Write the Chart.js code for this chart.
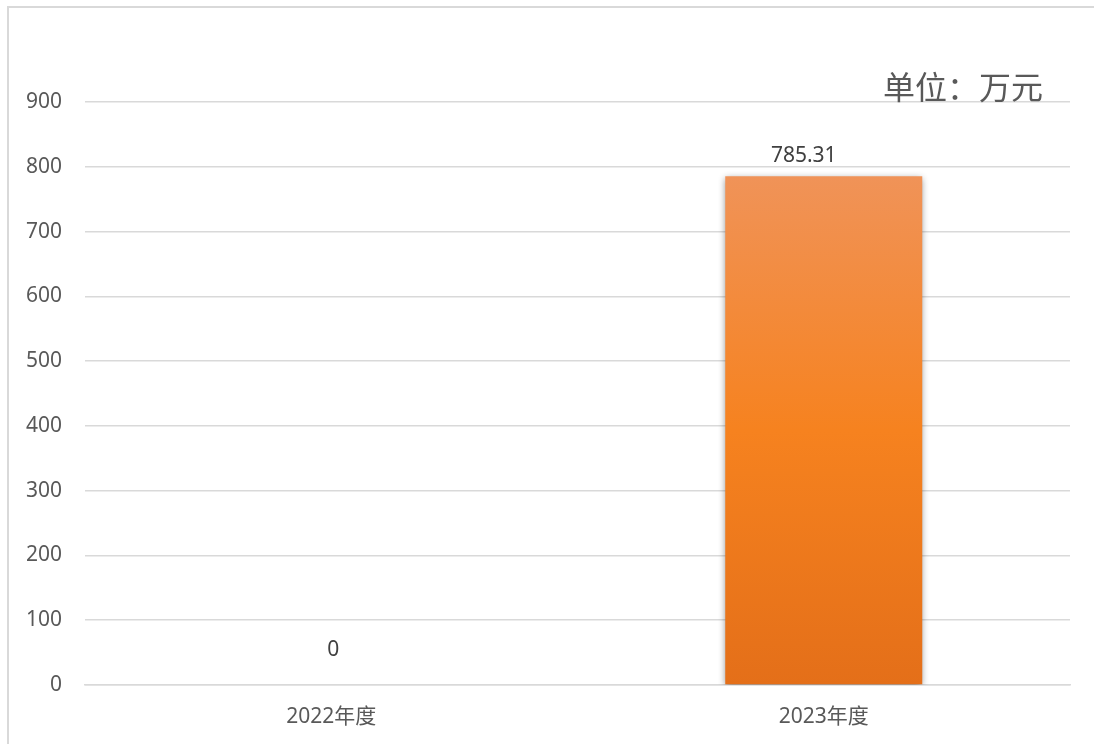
<!DOCTYPE html>
<html>
<head>
<meta charset="utf-8">
<script src="https://cdn.jsdelivr.net/npm/chart.js@4"></script>
<style>
html,body{margin:0;padding:0;background:#fff;}
#wrap{width:1094px;height:744px;}
</style>
</head>
<body>
<div id="wrap"><canvas id="c" width="1094" height="744"></canvas></div>
<script>
const categories = ["2022年度", "2023年度"];
const values = [0, 785.31];
const valueLabels = ["0", "785.31"];
const yTicks = [0, 100, 200, 300, 400, 500, 600, 700, 800, 900];
const unitText = "单位：万元";

const FONT = '"Noto Sans", "Noto Sans CJK SC", sans-serif';
const CJK = '"Noto Sans CJK SC", sans-serif';

const frame = {
  id: 'frame',
  beforeDraw(chart) {
    const ctx = chart.ctx;
    ctx.save();
    ctx.fillStyle = '#fff';
    ctx.fillRect(0, 0, chart.width, chart.height);
    ctx.strokeStyle = '#d9d9d9';
    ctx.lineWidth = 2;
    ctx.strokeRect(8, 7, 1100, 760);
    ctx.restore();
  },
  afterDraw(chart) {
    const ctx = chart.ctx;
    ctx.save();
    ctx.font = '32px ' + CJK;
    ctx.fillStyle = '#595959';
    ctx.textAlign = 'right';
    ctx.textBaseline = 'alphabetic';
    ctx.fillText(unitText, 1043, 99);
    ctx.restore();
  }
};

const shadow = {
  id: 'shadow',
  beforeDatasetDraw(chart) {
    const ctx = chart.ctx;
    ctx.save();
    ctx.shadowColor = 'rgba(0,0,0,0.45)';
    ctx.shadowBlur = 7;
    ctx.shadowOffsetX = 0;
    ctx.shadowOffsetY = 2;
  },
  afterDatasetDraw(chart) {
    chart.ctx.restore();
  }
};

const labels = {
  id: 'labels',
  afterDatasetsDraw(chart) {
    const ctx = chart.ctx;
    const meta = chart.getDatasetMeta(0);
    ctx.save();
    ctx.font = '21px ' + FONT;
    ctx.fillStyle = '#404040';
    ctx.textAlign = 'center';
    ctx.textBaseline = 'middle';
    meta.data.forEach((bar, i) => {
      const zero = values[i] === 0;
      const dy = zero ? 35 : 20;
      const dx = zero ? 2 : -20;
      ctx.fillText(valueLabels[i], bar.x + dx, bar.y - dy);
    });
    ctx.restore();
  }
};

new Chart(document.getElementById('c'), {
  type: 'bar',
  data: {
    labels: categories,
    datasets: [{
      data: values,
      backgroundColor(ctx) {
        const ca = ctx.chart.chartArea;
        if (!ca) return '#F58226';
        const y = ctx.chart.scales.y;
        const top = y.getPixelForValue(values[1]);
        const g = ctx.chart.ctx.createLinearGradient(0, top, 0, ca.bottom);
        g.addColorStop(0, '#F09358');
        g.addColorStop(0.5, '#F6821F');
        g.addColorStop(1, '#E46F19');
        return g;
      },
      borderWidth: 0,
      categoryPercentage: 0.4,
      barPercentage: 1.0
    }]
  },
  options: {
    responsive: false,
    devicePixelRatio: 1,
    animation: false,
    events: [],
    layout: { padding: { top: 102, right: 24, bottom: 0, left: 0 } },
    plugins: { legend: { display: false }, tooltip: { enabled: false } },
    scales: {
      x: {
        grid: { display: false, drawTicks: false },
        border: { display: true, color: '#d9d9d9', width: 1.5 },
        ticks: { font: { size: 21, family: FONT }, color: '#595959', padding: 19 },
        afterFit(s) { s.height = 59; }
      },
      y: {
        min: 0, max: 900,
        afterBuildTicks(s) { s.ticks = yTicks.map(v => ({ value: v })); },
        grid: { color: '#d9d9d9', lineWidth: 1.5, drawTicks: false },
        border: { display: false },
        ticks: { font: { size: 21, family: FONT }, color: '#595959', padding: 23 },
        afterFit(s) { s.width = 85; }
      }
    }
  },
  plugins: [frame, shadow, labels]
});
</script>
</body>
</html>
